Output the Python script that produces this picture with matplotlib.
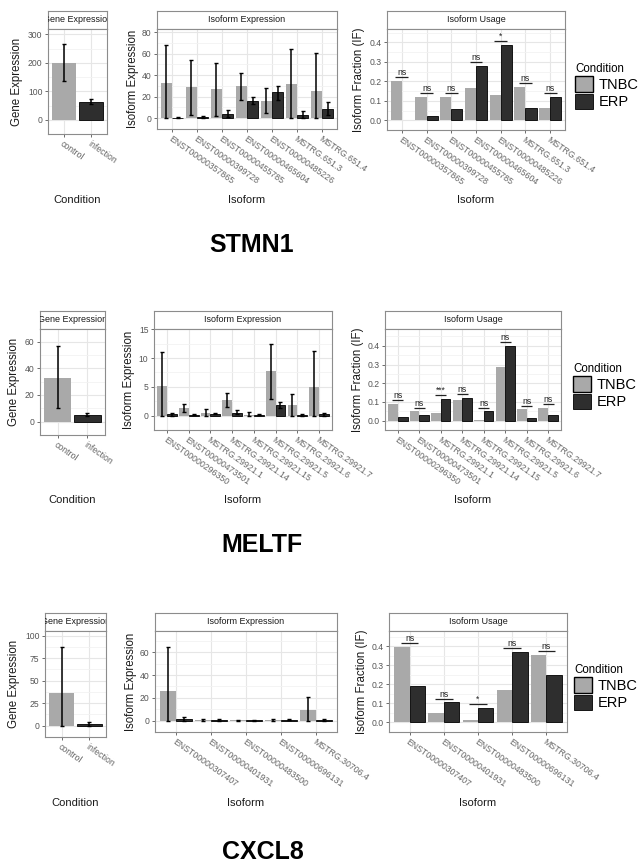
import matplotlib
matplotlib.use("Agg")
import matplotlib.pyplot as plt
import numpy as np

plt.rcParams['font.family'] = ['Liberation Sans', 'DejaVu Sans']

W, H = 640, 864
GRAY = '#a9a9a9'
DARK = '#2e2e2e'
BORDER = '#8c8c8c'
TICKC = '#555555'

# ---------- STMN1 ----------
stmn1_cond = ['control', 'infection']
stmn1_gene = [198, 62]
stmn1_gene_lo = [135, 55]
stmn1_gene_hi = [265, 73]
stmn1_iso = ['ENST00000357865', 'ENST00000399728', 'ENST00000455785',
             'ENST00000465604', 'ENST00000485226', 'MSTRG.651.3', 'MSTRG.651.4']
stmn1_tnbc = [33, 29, 27, 30, 16, 32, 25]
stmn1_tnbc_lo = [0, 3, 2, 17, 5, 0, 0]
stmn1_tnbc_hi = [68, 54, 51, 42, 28, 64, 61]
stmn1_erp = [0.3, 1, 4, 16, 24, 3, 9]
stmn1_erp_lo = [0, 0, 1, 13, 17, 0, 3]
stmn1_erp_hi = [1, 2, 8, 20, 30, 7, 15]
stmn1_if_tnbc = [0.20, 0.12, 0.12, 0.165, 0.13, 0.17, 0.065]
stmn1_if_erp = [0.0, 0.02, 0.06, 0.28, 0.385, 0.065, 0.12]
stmn1_sig = ['ns', 'ns', 'ns', 'ns', '*', 'ns', 'ns']

# ---------- MELTF ----------
meltf_cond = ['control', 'infection']
meltf_gene = [33, 5]
meltf_gene_lo = [10, 4]
meltf_gene_hi = [57, 6.5]
meltf_iso = ['ENST00000296350', 'ENST00000473501', 'MSTRG.29921.1', 'MSTRG.29921.14',
             'MSTRG.29921.15', 'MSTRG.29921.5', 'MSTRG.29921.6', 'MSTRG.29921.7']
meltf_tnbc = [5.1, 1.3, 0.5, 2.7, 0.1, 7.7, 1.8, 4.9]
meltf_tnbc_lo = [0, 0.6, 0, 1.5, 0, 2.9, 0, 0]
meltf_tnbc_hi = [11, 2.0, 1.1, 3.9, 0.6, 12.5, 3.7, 11.2]
meltf_erp = [0.2, 0.1, 0.35, 0.5, 0.15, 1.9, 0.1, 0.2]
meltf_erp_lo = [0, 0.05, 0.2, 0.2, 0.05, 1.4, 0, 0]
meltf_erp_hi = [0.45, 0.2, 0.5, 0.9, 0.25, 2.4, 0.3, 0.5]
meltf_if_tnbc = [0.09, 0.05, 0.04, 0.11, 0.005, 0.285, 0.06, 0.07]
meltf_if_erp = [0.02, 0.03, 0.115, 0.12, 0.05, 0.40, 0.015, 0.03]
meltf_sig = ['ns', 'ns', '***', 'ns', 'ns', 'ns', 'ns', 'ns']

# ---------- CXCL8 ----------
cxcl8_cond = ['control', 'infection']
cxcl8_gene = [36, 2]
cxcl8_gene_lo = [0, 0]
cxcl8_gene_hi = [87, 4.5]
cxcl8_iso = ['ENST00000307407', 'ENST00000401931', 'ENST00000483500',
             'ENST00000696131', 'MSTRG.30706.4']
cxcl8_tnbc = [26, 0.8, 0.2, 0.6, 9]
cxcl8_tnbc_lo = [0, 0, 0, 0, 0]
cxcl8_tnbc_hi = [65, 1.8, 0.8, 1.4, 21]
cxcl8_erp = [1.3, 0.5, 0.2, 0.9, 0.8]
cxcl8_erp_lo = [0, 0, 0, 0.3, 0]
cxcl8_erp_hi = [3, 1, 0.8, 1.5, 1.8]
cxcl8_if_tnbc = [0.395, 0.05, 0.012, 0.17, 0.355]
cxcl8_if_erp = [0.19, 0.105, 0.075, 0.37, 0.25]
cxcl8_sig = ['ns', 'ns', '*', 'ns', 'ns']

fig = plt.figure(figsize=(W / 100, H / 100), dpi=100)


def px_axes(l, t, r, b):
    return fig.add_axes([l / W, 1 - b / H, (r - l) / W, (b - t) / H])


def strip(l, t, r, b, text):
    s = px_axes(l, t, r, b)
    s.set_xticks([]); s.set_yticks([])
    for sp in s.spines.values():
        sp.set_color(BORDER); sp.set_linewidth(0.8)
    s.text(0.5, 0.5, text, ha='center', va='center', fontsize=6.5, color='#1a1a1a',
           transform=s.transAxes, clip_on=True)


def style(ax, box, ylim, yticks, n, xlab, ylab, ylab_x, xlab_y):
    l, t, r, b = box
    ax.set_xlim(-0.6, n - 0.4)
    ax.set_ylim(*ylim)
    ax.set_yticks(yticks)
    step = yticks[1] - yticks[0]
    ax.set_yticks(np.arange(yticks[0] - step / 2, ylim[1], step), minor=True)
    ax.grid(True, which='major', color='#e6e6e6', lw=0.8)
    ax.grid(True, which='minor', axis='y', color='#f2f2f2', lw=0.6)
    ax.set_axisbelow(True)
    for sp in ax.spines.values():
        sp.set_color(BORDER); sp.set_linewidth(0.8)
    ax.tick_params(axis='both', which='major', length=2.5, width=0.6, color=TICKC,
                   labelcolor=TICKC, pad=1.5)
    ax.tick_params(axis='y', labelsize=6.2)
    ax.tick_params(axis='x', labelsize=6.3, labelcolor='#666666')
    ax.tick_params(which='minor', length=0)
    for lab in ax.get_xticklabels():
        lab.set_rotation(-35)
        lab.set_ha('left')
        lab.set_va('top')
        lab.set_rotation_mode('anchor')
    ax.set_xlabel(xlab, fontsize=8, color='#1a1a1a')
    ax.set_ylabel(ylab, fontsize=8.3, color='#1a1a1a')
    ax.xaxis.label.set_va('center')
    ax.yaxis.label.set_va('center')
    ax.xaxis.set_label_coords(0.5, (b - xlab_y) / (b - t))
    ax.yaxis.set_label_coords((ylab_x - l) / (r - l), 0.5)


def errbars(ax, x, v, lo, hi):
    v = np.array(v, float)
    ax.errorbar(x, v, yerr=[v - np.array(lo), np.array(hi) - v], fmt='none',
                ecolor='black', elinewidth=1.1, capsize=1.5, capthick=1.0, zorder=4)


def gene_panel(box, cond, vals, lo, hi, ylim, yticks, ylab_x, xlab_y):
    l, t, r, b = box
    strip(l, t - 18, r, t, 'Gene Expression')
    ax = px_axes(*box)
    x = np.arange(len(cond))
    ax.bar(x, vals, width=0.9, color=[GRAY, DARK], edgecolor=['none', 'black'], linewidth=0.6)
    errbars(ax, x, vals, lo, hi)
    ax.set_xticks(x, cond)
    style(ax, box, ylim, yticks, len(cond), 'Condition', 'Gene Expression', ylab_x, xlab_y)


def iso_panel(box, iso, tnbc, tlo, thi, erp, elo, ehi, ylim, yticks, ylab_x, xlab_y):
    l, t, r, b = box
    strip(l, t - 18, r, t, 'Isoform Expression')
    ax = px_axes(*box)
    x = np.arange(len(iso))
    ax.bar(x - 0.225, tnbc, width=0.45, color=GRAY)
    ax.bar(x + 0.225, erp, width=0.45, color=DARK, edgecolor='black', linewidth=0.6)
    errbars(ax, x - 0.225, tnbc, tlo, thi)
    errbars(ax, x + 0.225, erp, elo, ehi)
    ax.set_xticks(x, iso)
    style(ax, box, ylim, yticks, len(iso), 'Isoform', 'Isoform Expression', ylab_x, xlab_y)


def usage_panel(box, iso, tnbc, erp, sig, ylim, ylab_x, xlab_y, leg_xy):
    l, t, r, b = box
    strip(l, t - 18, r, t, 'Isoform Usage')
    ax = px_axes(*box)
    x = np.arange(len(iso))
    b1 = ax.bar(x - 0.225, tnbc, width=0.45, color=GRAY, label='TNBC')
    erp_arr = np.array(erp, float)
    b2 = ax.bar(x + 0.225, erp_arr, width=0.45, color=DARK,
                edgecolor=['black' if v > 0 else 'none' for v in erp_arr], linewidth=0.6,
                label='ERP')
    top = np.maximum(tnbc, erp) + 0.02
    ax.hlines(top, x - 0.26, x + 0.26, color='#222222', lw=0.9, zorder=5)
    for xi, yi, s in zip(x, top, sig):
        ax.text(xi, yi + (0.0 if s == 'ns' else 0.004), s, ha='center', va='bottom',
                fontsize=6.2, color='#222222')
    ax.set_xticks(x, iso)
    style(ax, box, ylim, [0.0, 0.1, 0.2, 0.3, 0.4], len(iso), 'Isoform',
          'Isoform Fraction (IF)', ylab_x, xlab_y)
    leg = ax.legend(handles=[b1, b2], title='Condition', loc='upper left',
                    bbox_to_anchor=(leg_xy[0] / W, 1 - leg_xy[1] / H),
                    bbox_transform=fig.transFigure, frameon=False, fontsize=10.5,
                    title_fontsize=8.3, handlelength=1.2, handleheight=1.25,
                    handletextpad=0.45, labelspacing=0.1, borderpad=0,
                    borderaxespad=0, alignment='left')
    for h in leg.legend_handles:
        h.set_edgecolor('#9a9a9a' if h.get_label() == 'TNBC' else 'black')


# ---------- row 1: STMN1 ----------
gene_panel((48, 29, 107, 134), stmn1_cond, stmn1_gene, stmn1_gene_lo, stmn1_gene_hi,
           (-15, 319), [0, 100, 200, 300], 17, 200)
iso_panel((157, 29, 337, 129), stmn1_iso, stmn1_tnbc, stmn1_tnbc_lo, stmn1_tnbc_hi,
          stmn1_erp, stmn1_erp_lo, stmn1_erp_hi, (-3.5, 83), [0, 20, 40, 60, 80], 133, 200)
usage_panel((387, 29, 565, 130), stmn1_iso, stmn1_if_tnbc, stmn1_if_erp, stmn1_sig,
            (-0.02, 0.468), 359, 200, (575, 63))
fig.text(252 / W, 1 - 245 / H, 'STMN1', ha='center', va='center', fontsize=18,
         fontweight='bold')

# ---------- row 2: MELTF ----------
gene_panel((40, 329, 105, 435), meltf_cond, meltf_gene, meltf_gene_lo, meltf_gene_hi,
           (-2.7, 69.5), [0, 20, 40, 60], 14, 500)
iso_panel((154, 329, 332, 430), meltf_iso, meltf_tnbc, meltf_tnbc_lo, meltf_tnbc_hi,
          meltf_erp, meltf_erp_lo, meltf_erp_hi, (-0.63, 15.05), [0, 5, 10, 15], 129, 500)
usage_panel((385, 329, 561, 430), meltf_iso, meltf_if_tnbc, meltf_if_erp, meltf_sig,
            (-0.02, 0.49), 358, 500, (573, 363))
fig.text(262 / W, 1 - 545 / H, 'MELTF', ha='center', va='center', fontsize=18,
         fontweight='bold')

# ---------- row 3: CXCL8 ----------
gene_panel((45, 631, 106, 737), cxcl8_cond, cxcl8_gene, cxcl8_gene_lo, cxcl8_gene_hi,
           (-5, 105), [0, 25, 50, 75, 100], 14, 803)
iso_panel((155, 631, 337, 732), cxcl8_iso, cxcl8_tnbc, cxcl8_tnbc_lo, cxcl8_tnbc_hi,
          cxcl8_erp, cxcl8_erp_lo, cxcl8_erp_hi, (-3.2, 78.6), [0, 20, 40, 60], 131, 803)
usage_panel((389, 631, 567, 732), cxcl8_iso, cxcl8_if_tnbc, cxcl8_if_erp, cxcl8_sig,
            (-0.02, 0.48), 362, 803, (574, 664))
fig.text(263 / W, 1 - 852 / H, 'CXCL8', ha='center', va='center', fontsize=18,
         fontweight='bold')

fig.savefig('out.png', dpi=100)
